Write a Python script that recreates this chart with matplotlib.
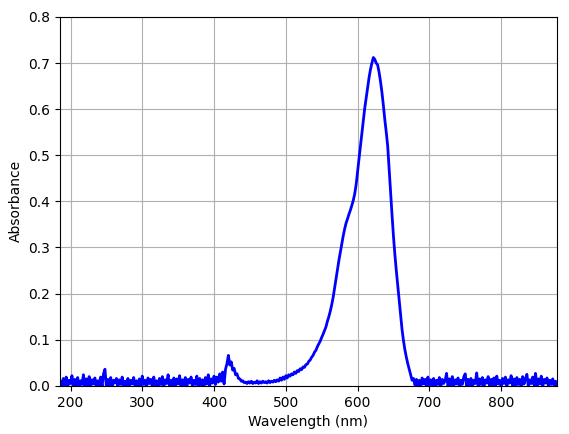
import matplotlib
matplotlib.use("Agg")
import matplotlib.pyplot as plt
import numpy as np

# wavelength grid (nm), 2 nm steps
wavelength = np.arange(186, 880, 2)

# absorbance, one row per 20 nm
absorbance = [
    # 186-404 baseline
    0.010, -0.004, 0.016, 0.002, 0.019, -0.003, 0.012, 0.005, 0.022, -0.002,
    0.014, 0.001, 0.018, -0.004, 0.011, 0.003, 0.024, -0.002, 0.015, 0.000,
    0.020, -0.003, 0.013, 0.004, 0.017, -0.005, 0.011, 0.002, 0.019, -0.001,
    0.026, 0.036, -0.003, 0.014, 0.002, 0.018, -0.004, 0.012, 0.006, 0.016,
    -0.002, 0.013, 0.003, 0.019, -0.004, 0.010, 0.001, 0.016, -0.003, 0.012,
    0.004, 0.018, -0.002, 0.011, 0.000, 0.015, -0.005, 0.021, 0.003, 0.012,
    -0.003, 0.017, 0.005, 0.014, -0.002, 0.019, 0.002, 0.011, -0.004, 0.016,
    0.003, 0.020, -0.002, 0.013, 0.005, 0.024, -0.003, 0.012, 0.001, 0.017,
    -0.004, 0.015, 0.004, 0.022, -0.001, 0.013, 0.002, 0.018, -0.003, 0.014,
    0.006, 0.019, -0.002, 0.012, 0.003, 0.021, -0.004, 0.016, 0.002, 0.013,
    -0.003, 0.018, 0.004, 0.024, 0.000, 0.015, 0.006, 0.021, 0.003, 0.019,
    # 406-504 small band near 420 nm
    0.008, 0.026, 0.010, 0.030, 0.004, 0.036, 0.048, 0.066, 0.045, 0.052,
    0.034, 0.038, 0.024, 0.026, 0.016, 0.015, 0.010, 0.011, 0.007, 0.008,
    0.005, 0.009, 0.006, 0.010, 0.005, 0.008, 0.006, 0.011, 0.005, 0.009,
    0.006, 0.010, 0.007, 0.009, 0.006, 0.011, 0.007, 0.010, 0.008, 0.012,
    0.009, 0.013, 0.010, 0.017, 0.012, 0.019, 0.014, 0.022, 0.017, 0.024,
    # 506-684 main band
    0.021, 0.026, 0.024, 0.030, 0.027, 0.033, 0.031, 0.037, 0.035, 0.041,
    0.040, 0.046, 0.047, 0.053, 0.056, 0.062, 0.066, 0.073, 0.077, 0.085,
    0.091, 0.097, 0.105, 0.112, 0.120, 0.128, 0.140, 0.150, 0.162, 0.176,
    0.192, 0.212, 0.232, 0.252, 0.272, 0.290, 0.308, 0.325, 0.340, 0.353,
    0.362, 0.372, 0.381, 0.391, 0.402, 0.416, 0.436, 0.465, 0.492, 0.520,
    0.548, 0.578, 0.602, 0.624, 0.645, 0.668, 0.686, 0.700, 0.712, 0.708,
    0.700, 0.696, 0.680, 0.660, 0.636, 0.608, 0.577, 0.550, 0.520, 0.470,
    0.420, 0.372, 0.325, 0.285, 0.250, 0.218, 0.188, 0.155, 0.122, 0.098,
    0.078, 0.062, 0.048, 0.036, 0.024, 0.012, 0.016, 0.002, 0.014, -0.003,
    # 686-878 baseline
    0.012, -0.002, 0.017, 0.004, 0.014, -0.003, 0.019, 0.002, 0.013, 0.000,
    0.016, -0.004, 0.012, 0.003, 0.018, -0.002, 0.014, 0.005, 0.011, 0.027,
    -0.003, 0.015, 0.002, 0.020, -0.001, 0.013, 0.004, 0.017, -0.004, 0.012,
    0.003, 0.019, 0.026, -0.002, 0.014, 0.001, 0.016, -0.003, 0.012, 0.005,
    0.028, -0.002, 0.015, 0.003, 0.018, -0.004, 0.013, 0.006, 0.020, -0.001,
    0.014, 0.002, 0.017, -0.003, 0.021, 0.004, 0.012, -0.002, 0.016, 0.005,
    0.019, -0.003, 0.013, 0.006, 0.022, 0.001, 0.015, -0.004, 0.018, 0.003,
    0.014, -0.002, 0.020, 0.004, 0.016, 0.025, -0.003, 0.013, 0.005, 0.019,
    0.002, 0.027, -0.001, 0.015, 0.004, 0.021, -0.003, 0.014, 0.006, 0.017,
    -0.002, 0.012, 0.003, 0.015, 0.000, 0.010, 0.002,
]

fig = plt.figure(figsize=(5.69, 4.34), dpi=100)
ax = fig.add_axes([0.105, 0.111, 0.874, 0.85])
ax.plot(wavelength, absorbance, '-', color='blue', linewidth=2.0)
ax.set_xlim(185, 878)
ax.set_ylim(0, 0.8)
ax.set_yticks(np.arange(0, 0.81, 0.1))
ax.set_xlabel('Wavelength (nm)')
ax.set_ylabel('Absorbance')
ax.grid(True)
fig.savefig('out.png', dpi=100)
